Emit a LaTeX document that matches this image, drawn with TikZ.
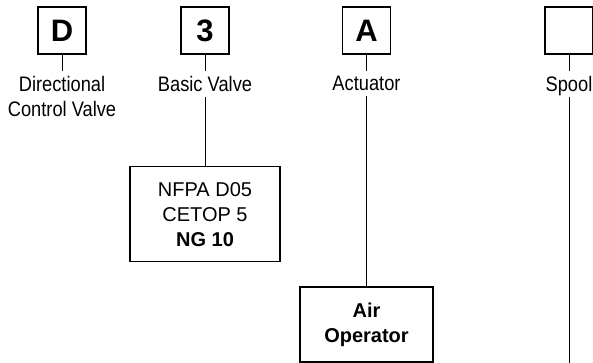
\documentclass[tikz,border=0pt]{standalone}
\usepackage{fontspec}
\setmainfont{Liberation Sans}
\newfontfamily\narrowfont{Liberation Sans}[FakeStretch=0.87]
\usetikzlibrary{positioning}

\begin{document}
\begin{tikzpicture}[
    x=1pt, y=-1pt,
    letterbox/.style={rectangle, draw, line width=1.2pt, minimum width=48pt, minimum height=47pt, inner sep=0pt, font=\fontsize{31}{36}\selectfont\bfseries},
    partlabel/.style={inner xsep=0pt, inner ysep=5.5pt, text depth=0pt, align=center, font=\narrowfont\fontsize{21}{24.5}\selectfont},
    optionbox/.style={rectangle, draw, line width=1.2pt, inner sep=0pt, align=center, font=\fontsize{20}{25}\selectfont},
    link/.style={line width=1pt}
]
\useasboundingbox (0,0) rectangle (593,363);

% code letters
\node[letterbox] (dbox) at (62,30.5) {D};
\node[letterbox] (valvebox) at (205,30.5) {3};
\node[letterbox] (actbox) at (366.5,30.5) {A};
\node[letterbox] (spoolbox) at (569,30.5) {};

% what each letter stands for
\node[partlabel, below=16pt of dbox] (dlabel) {Directional\\Control Valve};
\node[partlabel, below=16pt of valvebox] (valvelabel) {Basic Valve};
\node[partlabel, below=16pt of actbox] (actlabel) {Actuator};
\node[partlabel, below=16pt of spoolbox] (spoollabel) {Spool};

% options
\node[optionbox, minimum width=150pt, minimum height=95pt, below=69pt of valvelabel] (mounting) {NFPA D05\\CETOP 5\\\textbf{NG 10}};
\node[optionbox, minimum width=133pt, minimum height=75pt, font=\fontsize{20}{25}\selectfont\bfseries, below=190pt of actlabel] (airop) {Air\\Operator};
\coordinate (spoolend) at (569,363);

\draw[link] (dbox) -- (dlabel);
\draw[link] (valvebox) -- (valvelabel);
\draw[link] (actbox) -- (actlabel);
\draw[link] (spoolbox) -- (spoollabel);
\draw[link] (valvelabel) -- (mounting);
\draw[link] (actlabel) -- (airop);
\draw[link] (spoollabel) -- (spoolend);

\end{tikzpicture}
\end{document}
